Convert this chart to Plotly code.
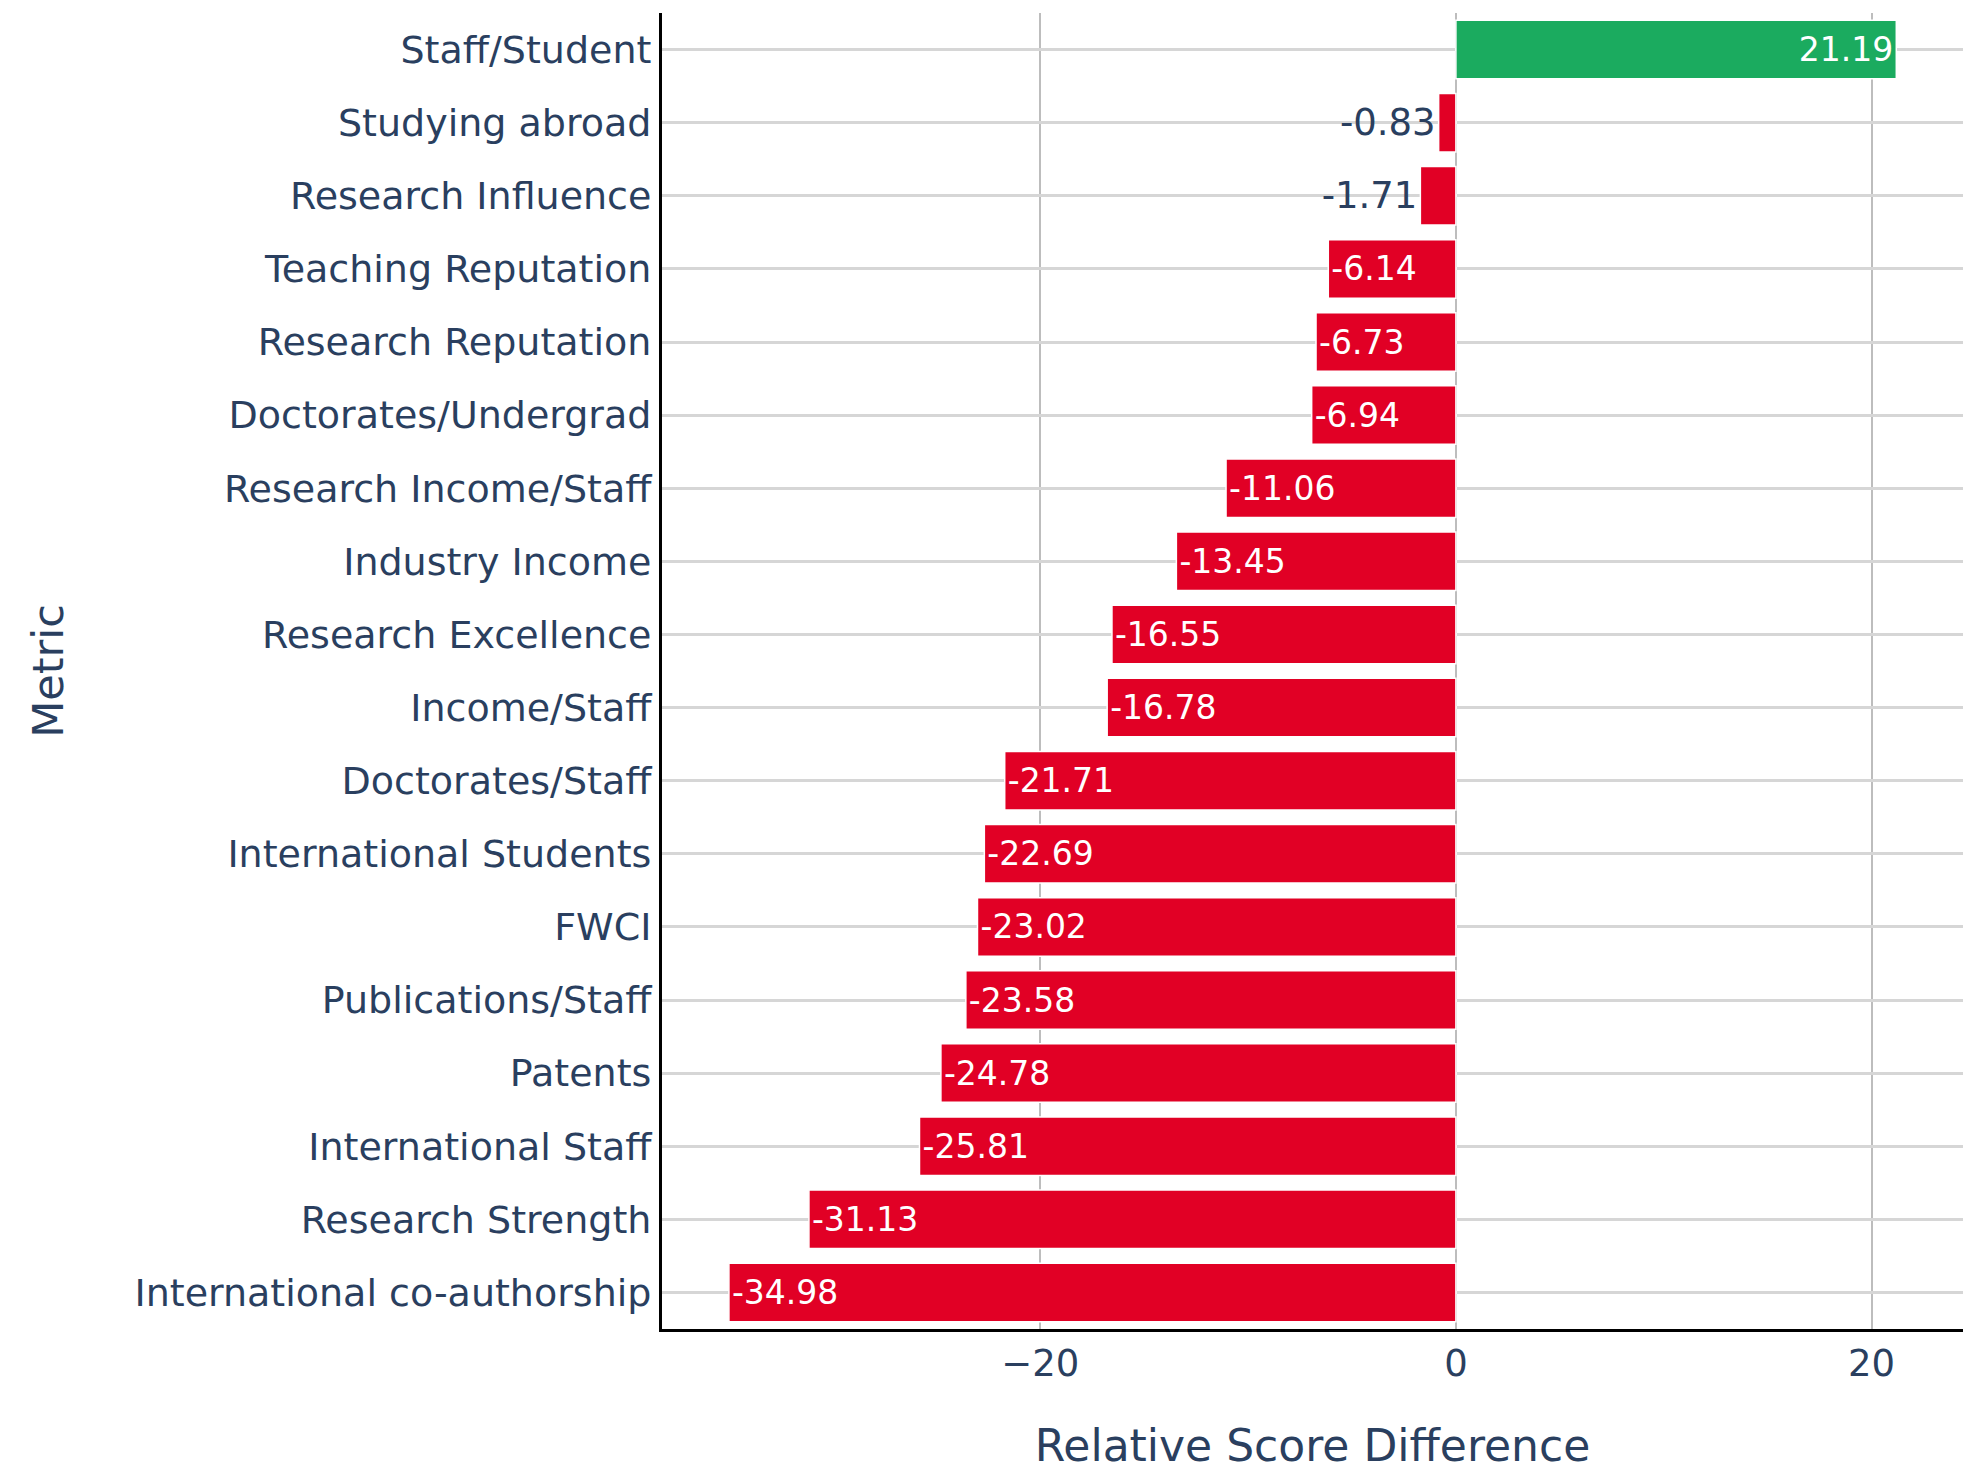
import plotly.graph_objects as go

# Metrics listed top to bottom, with their relative score differences
metrics = [
    "Staff/Student",
    "Studying abroad",
    "Research Influence",
    "Teaching Reputation",
    "Research Reputation",
    "Doctorates/Undergrad",
    "Research Income/Staff",
    "Industry Income",
    "Research Excellence",
    "Income/Staff",
    "Doctorates/Staff",
    "International Students",
    "FWCI",
    "Publications/Staff",
    "Patents",
    "International Staff",
    "Research Strength",
    "International co-authorship",
]
differences = [
    21.19, -0.83, -1.71, -6.14, -6.73, -6.94, -11.06, -13.45, -16.55,
    -16.78, -21.71, -22.69, -23.02, -23.58, -24.78, -25.81, -31.13, -34.98,
]
x_ticks = [-20, 0, 20]

POS_COLOR = "#1BAB5F"
NEG_COLOR = "#E10025"
bar_colors = [POS_COLOR if v >= 0 else NEG_COLOR for v in differences]

FONT = "Verdana, DejaVu Sans, sans-serif"
TEXT_COLOR = "#2a3f5f"

fig = go.Figure(
    go.Bar(
        x=differences,
        y=metrics,
        orientation="h",
        marker=dict(color=bar_colors, line=dict(color="white", width=1.5)),
        text=[f"{v:.2f}" for v in differences],
        textposition="auto",
        textfont=dict(family=FONT, size=37),
        insidetextfont=dict(family=FONT, size=33, color="white"),
        outsidetextfont=dict(family=FONT, size=37, color=TEXT_COLOR),
        cliponaxis=False,
    )
)

fig.update_layout(
    width=1977,
    height=1471,
    margin=dict(l=662, r=14, t=13, b=142),
    plot_bgcolor="white",
    paper_bgcolor="white",
    font=dict(family=FONT, size=38, color=TEXT_COLOR),
    bargap=0.2,
    showlegend=False,
    xaxis=dict(
        title=dict(text="Relative Score Difference", font=dict(size=44), standoff=52),
        automargin=False,
        range=[-38.2, 24.4],
        tickvals=x_ticks,
        ticktext=["\u221220", "0", "20"],
        tickfont=dict(size=37),
        showgrid=True,
        gridcolor="#bdbdbd",
        gridwidth=1.5,
        zeroline=False,
        showline=True,
        linecolor="black",
        linewidth=3,
        ticks="",
    ),
    yaxis=dict(
        title=dict(text="Metric", font=dict(size=43), standoff=58),
        automargin=False,
        categoryorder="array",
        categoryarray=metrics,
        range=[17.5, -0.5],
        showgrid=True,
        gridcolor="#d6d6d6",
        gridwidth=2.5,
        zeroline=False,
        showline=True,
        linecolor="black",
        linewidth=3,
        ticks="",
    ),
)

fig.write_html("out.html")
